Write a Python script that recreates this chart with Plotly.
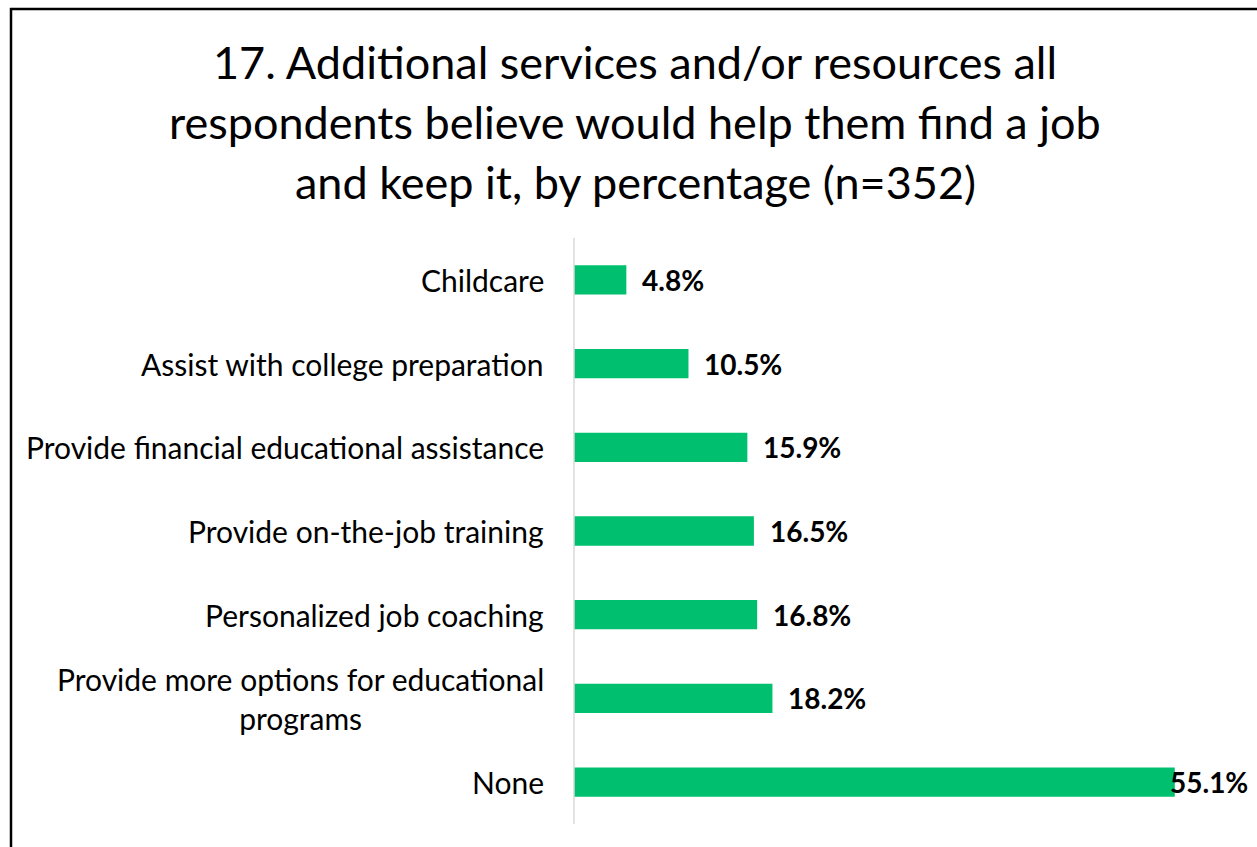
import plotly.graph_objects as go

# Survey responses, top to bottom
categories = [
    "Childcare",
    "Assist with college preparation",
    "Provide financial educational assistance",
    "Provide on-the-job training",
    "Personalized job coaching",
    "Provide more options for educational<br>programs",
    "None",
]
percentages = [4.8, 10.5, 15.9, 16.5, 16.8, 18.2, 55.1]
value_labels = ["4.8%", "10.5%", "15.9%", "16.5%", "16.8%", "18.2%", "55.1%"]

title_lines = [
    "17. Additional services and/or resources all",
    "respondents believe would help them find a job",
    "and keep it, by percentage (n=352)",
]

W, H = 1257, 847
ML, MR, MT, MB = 574, 7, 238, 23
PW, PH = W - ML - MR, H - MT - MB
XMAX = 62.0

FONT = "Lato, 'Open Sans', sans-serif"
GREEN = "#00BF6F"
LABEL_SIZE = 30
VALUE_SIZE = 28
TITLE_SIZE = 45


def px_x(px):
    return (px - ML) / PW


def px_y(py):
    return (H - MB - py) / PH


fig = go.Figure(go.Bar(
    x=percentages,
    y=categories,
    orientation="h",
    marker=dict(color=GREEN, line=dict(width=0)),
    width=0.35,
    hoverinfo="skip",
))

annotations = []

# Category labels: right-aligned block, wrapped lines centred within it
label_font = dict(family=FONT, size=LABEL_SIZE, color="#000000")
for cat in categories:
    annotations.append(dict(
        x=0, y=cat, xref="x", yref="y", text=cat, showarrow=False,
        xanchor="right", yanchor="middle", align="center", xshift=-28,
        font=label_font,
    ))

# Value labels at bar ends; the largest is kept inside the chart edge
vmax = max(percentages)
value_font = dict(family=FONT, size=VALUE_SIZE, color="#000000")
for cat, v, lab in zip(categories, percentages, value_labels):
    if v == vmax:
        annotations.append(dict(
            x=1.0, y=cat, xref="paper", yref="y", text=f"<b>{lab}</b>",
            showarrow=False, xanchor="right", yanchor="middle",
            font=value_font,
        ))
    else:
        annotations.append(dict(
            x=v, y=cat, xref="x", yref="y", text=f"<b>{lab}</b>",
            showarrow=False, xanchor="left", yanchor="middle", xshift=14,
            font=value_font,
        ))

# Title, one annotation per line
for i, line in enumerate(title_lines):
    annotations.append(dict(
        x=px_x(635), y=px_y(62 + 60 * i), xref="paper", yref="paper",
        text=line, showarrow=False, xanchor="center", yanchor="middle",
        font=dict(family=FONT, size=TITLE_SIZE, color="#000000"),
    ))

shapes = [
    # chart frame (left and top edges)
    dict(type="line", xref="paper", yref="paper",
         x0=px_x(11), x1=px_x(11), y0=px_y(8), y1=px_y(H + 10),
         line=dict(color="#000000", width=2.5)),
    dict(type="line", xref="paper", yref="paper",
         x0=px_x(10), x1=px_x(W + 10), y0=px_y(9), y1=px_y(9),
         line=dict(color="#000000", width=2.5)),
    # category axis line
    dict(type="line", xref="paper", yref="paper",
         x0=0, x1=0, y0=0, y1=1,
         line=dict(color="#D9D9D9", width=1.5)),
]

fig.update_layout(
    width=W, height=H,
    margin=dict(l=ML, r=MR, t=MT, b=MB, pad=0),
    paper_bgcolor="white", plot_bgcolor="white",
    showlegend=False,
    annotations=annotations,
    shapes=shapes,
    xaxis=dict(range=[0, XMAX], visible=False, fixedrange=True),
    yaxis=dict(categoryorder="array", categoryarray=categories,
               autorange="reversed", showticklabels=False,
               showgrid=False, zeroline=False, showline=False,
               fixedrange=True),
    font=dict(family=FONT),
)

fig.write_html("out.html")
